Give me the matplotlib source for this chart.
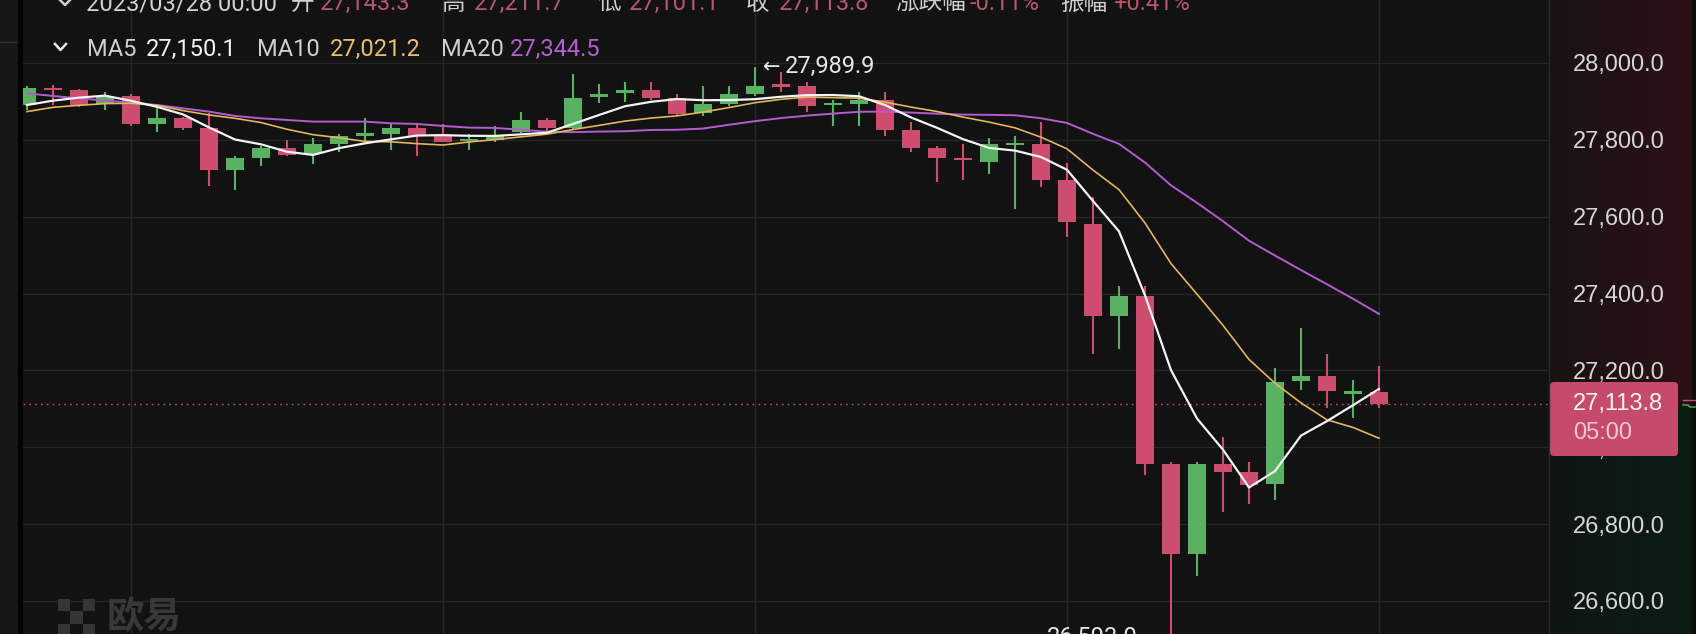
import numpy as np
import pandas as pd
import matplotlib
matplotlib.use("Agg")
import matplotlib.pyplot as plt
from matplotlib.patches import Rectangle, FancyBboxPatch

# BTC-USDT 4h candles
opens = [27890.8, 27934.0, 27929.8, 27893.4, 27914.2, 27841.4, 27857.0, 27831.0, 27721.8, 27753.0,
         27779.0, 27763.4, 27789.4, 27812.0, 27815.4, 27831.0, 27810.2, 27798.0, 27799.8, 27820.6,
         27851.8, 27831.0, 27914.2, 27924.6, 27929.8, 27909.0, 27869.1, 27893.4, 27919.4, 27943.7,
         27940.2, 27891.7, 27893.4, 27903.8, 27825.8, 27779.0, 27753.0, 27742.6, 27787.7, 27789.4,
         27695.8, 27581.4, 27342.2, 27394.2, 26957.4, 26723.4, 26957.4, 26936.6, 26905.4, 27171.5,
         27186.2, 27140.3, 27143.3]
highs = [27940.2, 27942.8, 27931.5, 27923.7, 27919.4, 27886.5, 27860.5, 27869.1, 27758.2, 27784.2,
         27799.8, 27805.0, 27815.4, 27857.0, 27841.4, 27841.4, 27841.4, 27815.4, 27836.2, 27872.6,
         27857.0, 27971.4, 27945.4, 27950.6, 27950.6, 27919.4, 27940.2, 27940.2, 27989.9, 27976.6,
         27950.6, 27903.8, 27924.6, 27924.6, 27846.6, 27784.2, 27789.4, 27805.0, 27810.2, 27846.6,
         27739.1, 27652.5, 27420.2, 27420.2, 26960.9, 26960.9, 27026.7, 26962.6, 27207.0, 27311.0,
         27243.4, 27175.8, 27211.7]
lows = [27877.8, 27890.8, 27886.5, 27877.8, 27836.2, 27821.5, 27825.8, 27680.2, 27669.8, 27732.2,
        27758.2, 27737.4, 27768.6, 27794.6, 27773.8, 27758.2, 27794.6, 27773.8, 27794.6, 27817.1,
        27820.6, 27825.8, 27895.1, 27898.6, 27903.8, 27863.9, 27862.2, 27888.2, 27914.2, 27924.6,
        27872.6, 27836.2, 27836.2, 27810.2, 27768.6, 27690.6, 27695.8, 27711.4, 27619.5, 27676.7,
        27546.7, 27243.4, 27255.5, 26928.8, 26500.0, 26666.2, 26832.6, 26853.4, 26863.8, 27149.8,
        27103.0, 27077.0, 27101.1]
closes = [27935.9, 27929.8, 27890.8, 27910.7, 27841.4, 27857.0, 27831.0, 27721.8, 27753.0, 27779.0,
          27760.8, 27789.4, 27810.2, 27815.4, 27831.0, 27810.2, 27794.6, 27801.5, 27813.7, 27851.8,
          27831.0, 27909.0, 27917.7, 27928.1, 27909.0, 27867.4, 27893.4, 27919.4, 27940.2, 27940.2,
          27888.2, 27895.1, 27903.8, 27825.8, 27779.0, 27753.0, 27747.8, 27789.4, 27791.1, 27695.8,
          27586.6, 27342.2, 27394.2, 26957.4, 26723.4, 26957.4, 26936.6, 26901.9, 27170.6, 27185.3,
          27146.3, 27143.3, 27113.8]

# MA values at the left edge (window reaches before the visible candles)
ma5_head = [27890.8, 27902.0, 27909.9, 27915.0]
ma10_head = [27873.5, 27884.7, 27889.9, 27894.3, 27895.1, 27889.9, 27876.1, 27864.8, 27856.1]
ma20_head = [27921.1, 27914.2, 27908.1, 27902.1, 27896.9, 27890.8, 27882.1, 27873.5, 27862.2, 27856.1,
             27851.8, 27847.5, 27847.5, 27847.5, 27843.1, 27841.4, 27836.2, 27831.9, 27831.0]

price_ticks = [26600, 26800, 27000, 27200, 27400, 27600, 27800, 28000]
time_grid = [4, 16, 28, 40, 52]
last_price = 27113.8
countdown = "05:00"
hi_label = "27,989.9"
lo_label = "26,593.0"

header1 = [("2023/03/28 00:00", 86, "d"), ("开", 291, "l"), ("27,143.3", 320, "v"),
           ("高", 442, "l"), ("27,211.7", 474, "v"), ("低", 597, "l"), ("27,101.1", 629, "v"),
           ("收", 746, "l"), ("27,113.8", 779, "v"), ("涨跌幅", 895, "l"), ("-0.11%", 970, "v"),
           ("振幅", 1060, "l"), ("+0.41%", 1113, "v")]
header2 = [("MA5", 87, "l"), ("27,150.1", 146, "w"), ("MA10", 257, "l"), ("27,021.2", 330, "y"),
           ("MA20", 441, "l"), ("27,344.5", 510, "p")]

BG = "#121212"
RED = "#cc4d6d"
GREEN = "#58b262"
C_MA5, C_MA10, C_MA20 = "#f4f4f4", "#e3b65c", "#b55bd0"
HCOL = {"d": "#d2d2d2", "l": "#cfcfcf", "v": "#b8566f", "w": "#f2f2f2", "y": "#e6c06e", "p": "#b45fcf"}
HFONT = ["Roboto", "Noto Sans CJK SC", "DejaVu Sans"]

W, H = 1696, 634
PX = 538 / 1400          # pixels per price unit
X0, STEP = 27, 26        # candle centre of first bar, spacing (px)
PL, PR = 23, 1549        # plot area left / right (px)

fig = plt.figure(figsize=(W / 100, H / 100), dpi=100, facecolor=BG)

# price-axis band with red/green tint
bk = fig.add_axes([PR / W, 0, (1692 - PR) / W, 1], zorder=-1)
n_x = 60
tx = np.linspace(0.3, 1.0, n_x)[None, :, None]
rows = np.arange(H)[:, None, None]
tint = np.where(rows < 63 + (28000 - last_price) * PX,
                np.array([44, 17, 22])[None, None, :], np.array([11, 29, 20])[None, None, :])
img = (np.array([18, 18, 18]) * (1 - tx) + tint * tx) / 255
bk.imshow(img, aspect="auto", extent=[0, 1, 1, 0])
bk.axis("off")

# main chart
ax = fig.add_axes([PL / W, 0, (PR - PL) / W, 1])
ax.set_facecolor(BG)
ax.set_xlim((PL - X0) / STEP, (PR - X0) / STEP)
ax.set_ylim(28000 - (H - 63) / PX, 28000 + 63 / PX)
for s in ax.spines.values():
    s.set_visible(False)
ax.set_xticks(time_grid, labels=[])
ax.yaxis.tick_right()
ax.set_yticks(price_ticks, labels=[f"{v:,.1f}" for v in price_ticks],
              fontfamily="Liberation Sans", fontsize=17, color="#d6d6d6")
ax.tick_params(length=0)
ax.tick_params(axis="y", pad=17.5)
ax.grid(color="#262626", lw=1)
ax.set_axisbelow(True)

o = np.array(opens); c = np.array(closes)
x = np.arange(len(o))
cols = np.where(c >= o, GREEN, RED)
ax.vlines(x, lows, highs, colors=cols, lw=1.5, zorder=2)
body = np.maximum(np.abs(c - o), 2.6 / PX)
ax.bar(x, body, bottom=(o + c) / 2 - body / 2, width=18 / STEP, color=cols, zorder=2)

cs = pd.Series(closes)
for n, head, col, lw in ((20, ma20_head, C_MA20, 1.4), (10, ma10_head, C_MA10, 1.2),
                         (5, ma5_head, C_MA5, 1.6)):
    m = cs.rolling(n).mean()
    m.iloc[:len(head)] = head
    ax.plot(x, m.values, color=col, lw=lw, zorder=3)

ax.axhline(last_price, color=RED, lw=1, ls=(0, (1.2, 3)), zorder=1)

# overlay in pixel coordinates (y down)
ov = fig.add_axes([0, 0, 1, 1], zorder=5)
ov.set_xlim(0, W)
ov.set_ylim(H, 0)
ov.axis("off")

ov.add_patch(Rectangle((0, 0), 18, H, color="#161616", lw=0))
ov.add_patch(Rectangle((18, 0), 5, H, color="#000000", lw=0))
ov.plot([0, 16], [42, 42], color="#333333", lw=1)
ov.plot([PR, PR], [0, H], color="#2a2a2a", lw=1)
ov.add_patch(Rectangle((1692, 0), 4, H, color="#0d0d0d", lw=0))
ov.plot([1683, 1696], [400, 400], color=RED, lw=1)
ov.plot([1683, 1688, 1690, 1696], [405, 405, 407, 407], color=GREEN, lw=1)

# header lines
ov.plot([59, 65, 71], [-1, 5, -1], color="#d0d0d0", lw=1.8)
for txt, px, k in header1:
    ov.text(px, 10, txt, color=HCOL[k], fontsize=17, family=HFONT, va="baseline", ha="left")
ov.plot([55, 60.5, 66], [44, 50, 44], color="#e8e8e8", lw=1.8)
for txt, px, k in header2:
    ov.text(px, 55.5, txt, color=HCOL[k], fontsize=17, family=HFONT, va="baseline", ha="left")

# high / low markers
ov.text(763, 73, "←", color="#e6e6e6", fontsize=15, family=["DejaVu Sans"], va="baseline")
ov.text(785, 73, hi_label, color="#e6e6e6", fontsize=17, family=HFONT, va="baseline")
ov.text(1047, 644, lo_label, color="#e6e6e6", fontsize=17, family=HFONT, va="baseline")

# last price tag
ov.add_patch(FancyBboxPatch((1550, 382), 128, 74, boxstyle="round,pad=0,rounding_size=4",
                            fc="#c64b6b", ec="none"))
ov.text(1573, 404, f"{last_price:,.1f}", color="#f6f6f6", fontsize=17,
        family="Liberation Sans", va="center")
ov.text(1573, 433, countdown, color="#f3c6d2", fontsize=17, family="Liberation Sans", va="center")

# watermark
cell = 12.3
for r, cc in ((0, 0), (0, 2), (1, 1), (2, 0), (2, 2)):
    ov.add_patch(Rectangle((58 + cc * cell, 599 + r * cell), cell, cell, color="#353535", lw=0))
ov.text(107, 617, "欧易", color="#383838", fontsize=27, fontweight="bold",
        family=["Noto Sans CJK SC"], va="center")

fig.savefig("out.png", dpi=100, facecolor=BG)
